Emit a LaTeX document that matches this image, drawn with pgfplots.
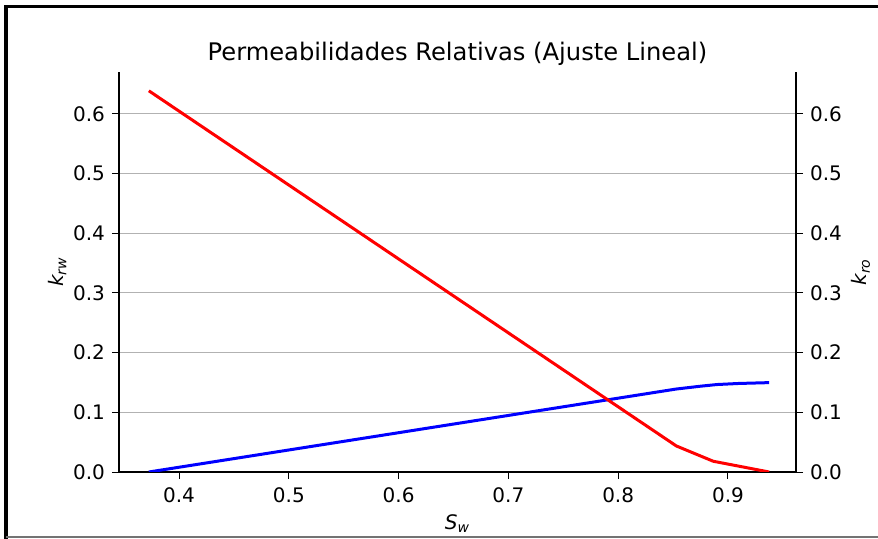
\documentclass[border=0pt]{standalone}
\usepackage{pgfplots}
\pgfplotsset{compat=1.18}
\usepackage{fontspec}
\setmainfont{DejaVu Sans}
\begin{document}
\begin{tikzpicture}[x=1pt,y=1pt]
\useasboundingbox (-59.5,-33.5) rectangle (379.5,236);
\pgfplotsset{
  common/.style={
    scale only axis, width=338.5pt, height=200pt,
    at={(0,0)}, anchor=south west,
    xmin=0.3453, xmax=0.962, ymin=0, ymax=0.670,
    ytick={0,0.1,...,0.6},
    xtick={0.4,0.5,...,0.9},
    /pgf/number format/fixed, /pgf/number format/fixed zerofill,
    /pgf/number format/precision=1,
    /pgf/number format/assume math mode=true,
    tick style={black, line width=0.45pt},
    major tick length=3.5pt,
    tick align=outside,
    axis line style={line width=0.6pt},
    tick label style={font=\fontsize{10}{12}\selectfont},
    label style={font=\fontsize{10}{12}\selectfont},
  }
}
\begin{axis}[common,
  axis y line*=left, axis x line*=bottom,
  ymajorgrids, grid style={color=black!30, line width=0.45pt},
  xlabel={\itshape S\textsubscript{w}},
  ylabel={\itshape k\textsubscript{rw}},
  ylabel style={yshift=-3.5pt},
  xlabel style={yshift=1pt},
  title={Permeabilidades Relativas (Ajuste Lineal)},
  title style={font=\fontsize{12.1}{14}\selectfont, yshift=-6.5pt},
  xticklabel style={yshift=-1pt},
]
\addplot[blue, line width=1.5pt] coordinates {
(0.3725,0.0) (0.853,0.139) (0.875,0.1437) (0.890,0.1465) (0.910,0.1483) (0.9375,0.1497)};
\end{axis}
\begin{axis}[common,
  axis y line*=right, axis x line=none,
  ylabel={\itshape k\textsubscript{ro}},
  ylabel style={yshift=2pt},
]
\addplot[red, line width=1.5pt] coordinates {
(0.3725,0.6385) (0.853,0.0436) (0.8866,0.018) (0.9375,0.0)};
\end{axis}
\draw[black, line width=1.8pt] (-56.5,-33.5) -- (-56.5,232.75) -- (379.5,232.75);
\draw[black!55, line width=0.6pt] (-56.5,-32.5) -- (379.5,-32.5);
\end{tikzpicture}
\end{document}
